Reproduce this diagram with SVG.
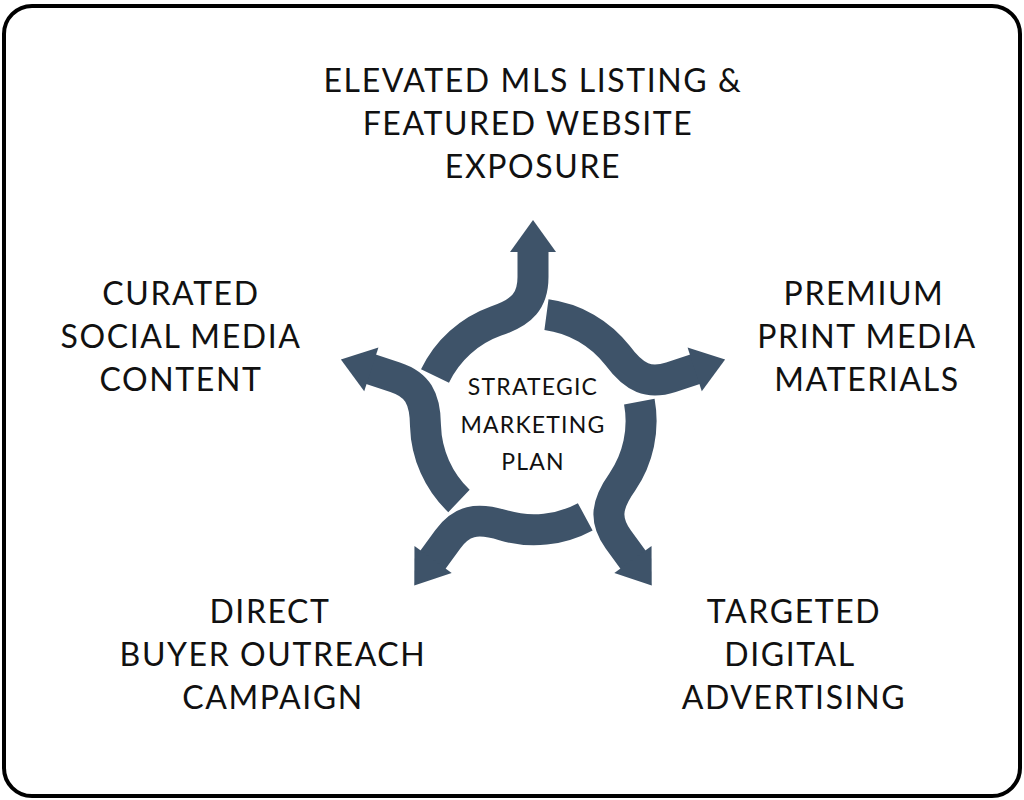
<svg xmlns="http://www.w3.org/2000/svg" width="1024" height="800" viewBox="0 0 1024 800">
<style>
.lbl{font-family:Lato,"Liberation Sans",sans-serif;font-size:32px;fill:#111;text-anchor:middle;letter-spacing:1.6px}
.ctr{font-family:Lato,"Liberation Sans",sans-serif;font-size:23px;fill:#111;text-anchor:middle;letter-spacing:1.2px}
.band{fill:none;stroke:#3e5369;stroke-width:31}
.head{fill:#3e5369}
</style>
<defs>
<g id="arrow">
<path class="band" d="M-98,-46 A108,108 0 0 1 -37,-101 C-10,-110 0,-122 0,-145 L0,-172"/>
<polygon class="head" points="-23,-170 23,-170 0,-202"/>
</g>
</defs>
<rect x="4" y="6" width="1016" height="790" rx="28" fill="#fff" stroke="#000" stroke-width="4"/>
<g id="connectors" transform="translate(533,422)">
<use href="#arrow"/>
<use href="#arrow" transform="rotate(72)"/>
<use href="#arrow" transform="rotate(144)"/>
<use href="#arrow" transform="rotate(216)"/>
<use href="#arrow" transform="rotate(288)"/>
</g>
<g id="center"><text class="ctr" x="533" y="395">STRATEGIC</text><text class="ctr" x="533" y="433">MARKETING</text><text class="ctr" x="533" y="470">PLAN</text></g>
<g id="top"><text class="lbl" x="533" y="92">ELEVATED MLS LISTING &amp;</text><text class="lbl" x="528" y="135">FEATURED WEBSITE</text><text class="lbl" x="533" y="178">EXPOSURE</text></g>
<g id="left"><text class="lbl" x="181" y="305">CURATED</text><text class="lbl" x="181" y="348">SOCIAL MEDIA</text><text class="lbl" x="181" y="391">CONTENT</text></g>
<g id="right"><text class="lbl" x="864" y="305">PREMIUM</text><text class="lbl" x="867" y="348">PRINT MEDIA</text><text class="lbl" x="867" y="391">MATERIALS</text></g>
<g id="bottomleft"><text class="lbl" x="270" y="623">DIRECT</text><text class="lbl" x="273" y="666">BUYER OUTREACH</text><text class="lbl" x="273" y="709">CAMPAIGN</text></g>
<g id="bottomright"><text class="lbl" x="794" y="623">TARGETED</text><text class="lbl" x="790" y="666">DIGITAL</text><text class="lbl" x="794" y="709">ADVERTISING</text></g>
</svg>
